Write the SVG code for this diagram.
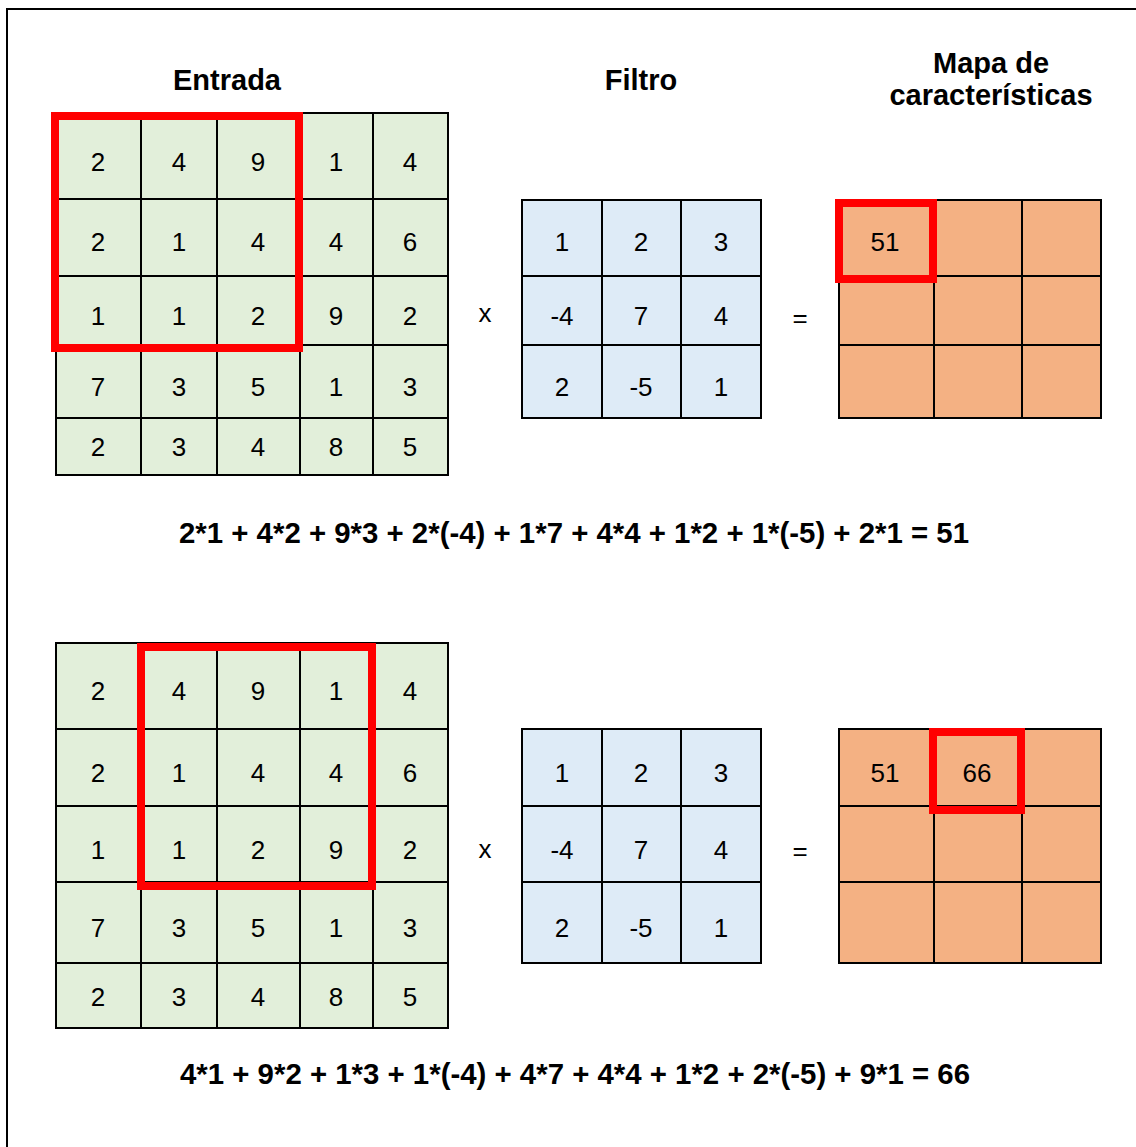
<svg xmlns="http://www.w3.org/2000/svg" width="1136" height="1147" viewBox="0 0 1136 1147">
<style>
.g{fill:#E2EFDA;stroke:#000;stroke-width:2}
.b{fill:#DEEBF7;stroke:#000;stroke-width:2}
.o{fill:#F4B183;stroke:#000;stroke-width:2}
.hl{fill:none;stroke:#FF0000;stroke-width:8}
.n{font-family:"Liberation Sans",Arial,sans-serif;font-size:26px;fill:#000;text-anchor:middle}
.t{font-family:"Liberation Sans",Arial,sans-serif;font-size:29px;font-weight:bold;fill:#000;text-anchor:middle}
.eq{font-size:29.4px}
</style>
<rect x="0" y="0" width="1136" height="1147" fill="#fff"/>
<path d="M7 1147 V9 H1136" fill="none" stroke="#000" stroke-width="2"/>

<g id="titles">
<text class="t" x="227" y="90">Entrada</text>
<text class="t" x="641" y="90">Filtro</text>
<text class="t" x="991" y="73">Mapa de</text>
<text class="t" x="991" y="105">características</text>
</g>

<!-- TOP SECTION -->
<g id="input-top">
<rect class="g" x="56" y="113" width="85" height="86"/><rect class="g" x="141" y="113" width="76" height="86"/><rect class="g" x="217" y="113" width="83" height="86"/><rect class="g" x="300" y="113" width="73" height="86"/><rect class="g" x="373" y="113" width="75" height="86"/>
<rect class="g" x="56" y="199" width="85" height="77"/><rect class="g" x="141" y="199" width="76" height="77"/><rect class="g" x="217" y="199" width="83" height="77"/><rect class="g" x="300" y="199" width="73" height="77"/><rect class="g" x="373" y="199" width="75" height="77"/>
<rect class="g" x="56" y="276" width="85" height="69"/><rect class="g" x="141" y="276" width="76" height="69"/><rect class="g" x="217" y="276" width="83" height="69"/><rect class="g" x="300" y="276" width="73" height="69"/><rect class="g" x="373" y="276" width="75" height="69"/>
<rect class="g" x="56" y="345" width="85" height="73"/><rect class="g" x="141" y="345" width="76" height="73"/><rect class="g" x="217" y="345" width="83" height="73"/><rect class="g" x="300" y="345" width="73" height="73"/><rect class="g" x="373" y="345" width="75" height="73"/>
<rect class="g" x="56" y="418" width="85" height="57"/><rect class="g" x="141" y="418" width="76" height="57"/><rect class="g" x="217" y="418" width="83" height="57"/><rect class="g" x="300" y="418" width="73" height="57"/><rect class="g" x="373" y="418" width="75" height="57"/>
<text class="n" x="98" y="171">2</text><text class="n" x="179" y="171">4</text><text class="n" x="258" y="171">9</text><text class="n" x="336" y="171">1</text><text class="n" x="410" y="171">4</text>
<text class="n" x="98" y="251">2</text><text class="n" x="179" y="251">1</text><text class="n" x="258" y="251">4</text><text class="n" x="336" y="251">4</text><text class="n" x="410" y="251">6</text>
<text class="n" x="98" y="325">1</text><text class="n" x="179" y="325">1</text><text class="n" x="258" y="325">2</text><text class="n" x="336" y="325">9</text><text class="n" x="410" y="325">2</text>
<text class="n" x="98" y="396">7</text><text class="n" x="179" y="396">3</text><text class="n" x="258" y="396">5</text><text class="n" x="336" y="396">1</text><text class="n" x="410" y="396">3</text>
<text class="n" x="98" y="456">2</text><text class="n" x="179" y="456">3</text><text class="n" x="258" y="456">4</text><text class="n" x="336" y="456">8</text><text class="n" x="410" y="456">5</text>
</g>

<g id="filter-top">
<rect class="b" x="522" y="200" width="80" height="76"/><rect class="b" x="602" y="200" width="79" height="76"/><rect class="b" x="681" y="200" width="80" height="76"/>
<rect class="b" x="522" y="276" width="80" height="69"/><rect class="b" x="602" y="276" width="79" height="69"/><rect class="b" x="681" y="276" width="80" height="69"/>
<rect class="b" x="522" y="345" width="80" height="73"/><rect class="b" x="602" y="345" width="79" height="73"/><rect class="b" x="681" y="345" width="80" height="73"/>
<text class="n" x="562" y="251">1</text><text class="n" x="641" y="251">2</text><text class="n" x="721" y="251">3</text>
<text class="n" x="562" y="325">-4</text><text class="n" x="641" y="325">7</text><text class="n" x="721" y="325">4</text>
<text class="n" x="562" y="396">2</text><text class="n" x="641" y="396">-5</text><text class="n" x="721" y="396">1</text>
</g>

<g id="map-top">
<rect class="o" x="839" y="200" width="95" height="76"/><rect class="o" x="934" y="200" width="88" height="76"/><rect class="o" x="1022" y="200" width="79" height="76"/>
<rect class="o" x="839" y="276" width="95" height="69"/><rect class="o" x="934" y="276" width="88" height="69"/><rect class="o" x="1022" y="276" width="79" height="69"/>
<rect class="o" x="839" y="345" width="95" height="73"/><rect class="o" x="934" y="345" width="88" height="73"/><rect class="o" x="1022" y="345" width="79" height="73"/>
<text class="n" x="885" y="251">51</text>
</g>

<g id="ops-top">
<text class="n" x="485" y="322">x</text>
<text class="n" x="800" y="327">=</text>
</g>

<g id="highlights-top">
<rect class="hl" x="55" y="116" width="244" height="232"/>
<rect class="hl" x="839" y="203" width="94" height="76"/>
</g>

<g id="equation-top">
<text class="t eq" x="574" y="543">2*1 + 4*2 + 9*3 + 2*(-4) + 1*7 + 4*4 + 1*2 + 1*(-5) + 2*1 = 51</text>
</g>

<!-- BOTTOM SECTION -->
<g id="input-bottom">
<rect class="g" x="56" y="643" width="85" height="86"/><rect class="g" x="141" y="643" width="76" height="86"/><rect class="g" x="217" y="643" width="83" height="86"/><rect class="g" x="300" y="643" width="73" height="86"/><rect class="g" x="373" y="643" width="75" height="86"/>
<rect class="g" x="56" y="729" width="85" height="77"/><rect class="g" x="141" y="729" width="76" height="77"/><rect class="g" x="217" y="729" width="83" height="77"/><rect class="g" x="300" y="729" width="73" height="77"/><rect class="g" x="373" y="729" width="75" height="77"/>
<rect class="g" x="56" y="806" width="85" height="76"/><rect class="g" x="141" y="806" width="76" height="76"/><rect class="g" x="217" y="806" width="83" height="76"/><rect class="g" x="300" y="806" width="73" height="76"/><rect class="g" x="373" y="806" width="75" height="76"/>
<rect class="g" x="56" y="882" width="85" height="81"/><rect class="g" x="141" y="882" width="76" height="81"/><rect class="g" x="217" y="882" width="83" height="81"/><rect class="g" x="300" y="882" width="73" height="81"/><rect class="g" x="373" y="882" width="75" height="81"/>
<rect class="g" x="56" y="963" width="85" height="65"/><rect class="g" x="141" y="963" width="76" height="65"/><rect class="g" x="217" y="963" width="83" height="65"/><rect class="g" x="300" y="963" width="73" height="65"/><rect class="g" x="373" y="963" width="75" height="65"/>
<text class="n" x="98" y="700">2</text><text class="n" x="179" y="700">4</text><text class="n" x="258" y="700">9</text><text class="n" x="336" y="700">1</text><text class="n" x="410" y="700">4</text>
<text class="n" x="98" y="782">2</text><text class="n" x="179" y="782">1</text><text class="n" x="258" y="782">4</text><text class="n" x="336" y="782">4</text><text class="n" x="410" y="782">6</text>
<text class="n" x="98" y="859">1</text><text class="n" x="179" y="859">1</text><text class="n" x="258" y="859">2</text><text class="n" x="336" y="859">9</text><text class="n" x="410" y="859">2</text>
<text class="n" x="98" y="937">7</text><text class="n" x="179" y="937">3</text><text class="n" x="258" y="937">5</text><text class="n" x="336" y="937">1</text><text class="n" x="410" y="937">3</text>
<text class="n" x="98" y="1006">2</text><text class="n" x="179" y="1006">3</text><text class="n" x="258" y="1006">4</text><text class="n" x="336" y="1006">8</text><text class="n" x="410" y="1006">5</text>
</g>

<g id="filter-bottom">
<rect class="b" x="522" y="729" width="80" height="77"/><rect class="b" x="602" y="729" width="79" height="77"/><rect class="b" x="681" y="729" width="80" height="77"/>
<rect class="b" x="522" y="806" width="80" height="76"/><rect class="b" x="602" y="806" width="79" height="76"/><rect class="b" x="681" y="806" width="80" height="76"/>
<rect class="b" x="522" y="882" width="80" height="81"/><rect class="b" x="602" y="882" width="79" height="81"/><rect class="b" x="681" y="882" width="80" height="81"/>
<text class="n" x="562" y="782">1</text><text class="n" x="641" y="782">2</text><text class="n" x="721" y="782">3</text>
<text class="n" x="562" y="859">-4</text><text class="n" x="641" y="859">7</text><text class="n" x="721" y="859">4</text>
<text class="n" x="562" y="937">2</text><text class="n" x="641" y="937">-5</text><text class="n" x="721" y="937">1</text>
</g>

<g id="map-bottom">
<rect class="o" x="839" y="729" width="95" height="77"/><rect class="o" x="934" y="729" width="88" height="77"/><rect class="o" x="1022" y="729" width="79" height="77"/>
<rect class="o" x="839" y="806" width="95" height="76"/><rect class="o" x="934" y="806" width="88" height="76"/><rect class="o" x="1022" y="806" width="79" height="76"/>
<rect class="o" x="839" y="882" width="95" height="81"/><rect class="o" x="934" y="882" width="88" height="81"/><rect class="o" x="1022" y="882" width="79" height="81"/>
<text class="n" x="885" y="782">51</text>
<text class="n" x="977" y="782">66</text>
</g>

<g id="ops-bottom">
<text class="n" x="485" y="858">x</text>
<text class="n" x="800" y="860">=</text>
</g>

<g id="highlights-bottom">
<rect class="hl" x="141" y="647" width="231" height="239"/>
<rect class="hl" x="933" y="732" width="88" height="78"/>
</g>

<g id="equation-bottom">
<text class="t eq" x="575" y="1084">4*1 + 9*2 + 1*3 + 1*(-4) + 4*7 + 4*4 + 1*2 + 2*(-5) + 9*1 = 66</text>
</g>
</svg>
